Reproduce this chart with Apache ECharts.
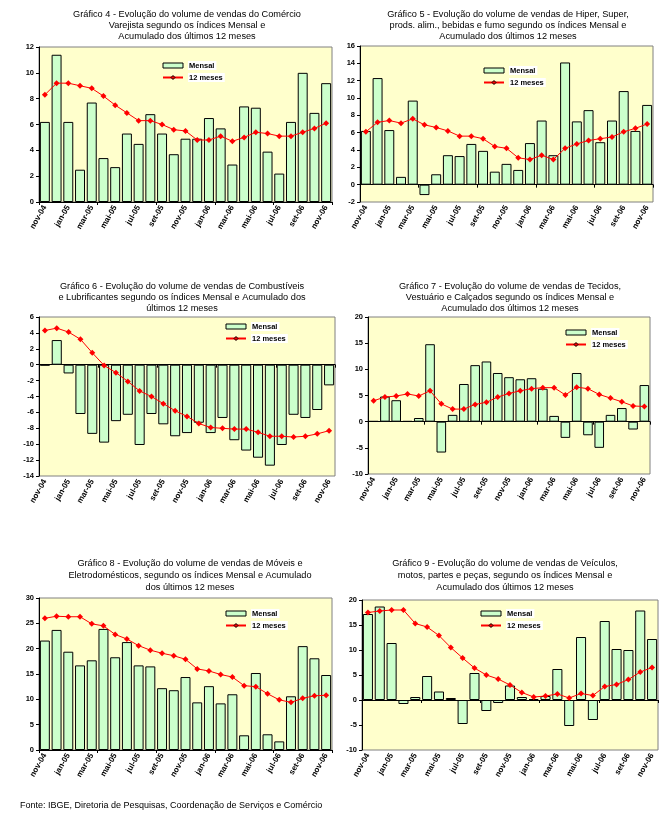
<!DOCTYPE html>
<html>
<head>
<meta charset="utf-8">
<script src="https://cdn.jsdelivr.net/npm/echarts@6/dist/echarts.min.js"></script>
<style>
html,body{margin:0;padding:0;background:#fff;}
#c{width:670px;height:813px;}
</style>
</head>
<body>
<div id="c"></div>
<script>
const categories = ['nov-04','dez-04','jan-05','fev-05','mar-05','abr-05','mai-05','jun-05','jul-05','ago-05','set-05','out-05','nov-05','dez-05','jan-06','fev-06','mar-06','abr-06','mai-06','jun-06','jul-06','ago-06','set-06','out-06','nov-06'];

const mensal4 = [6.2,11.4,6.2,2.5,7.7,3.4,2.7,5.3,4.5,6.8,5.3,3.7,4.9,4.9,6.5,5.7,2.9,7.4,7.3,3.9,2.2,6.2,10.0,6.9,9.2];
const meses4  = [8.3,9.2,9.2,9.0,8.8,8.2,7.5,6.9,6.3,6.3,6.0,5.6,5.5,4.8,4.8,5.1,4.7,5.0,5.4,5.3,5.1,5.1,5.4,5.7,6.1];

const mensal5 = [6.2,12.3,6.3,0.9,9.7,-1.2,1.2,3.4,3.3,4.7,3.9,1.5,2.4,1.7,4.8,7.4,3.4,14.1,7.3,8.6,4.9,7.4,10.8,6.2,9.2];
const meses5  = [6.1,7.2,7.4,7.1,7.6,6.9,6.6,6.2,5.6,5.6,5.3,4.4,4.2,3.1,2.9,3.4,2.9,4.2,4.7,5.1,5.3,5.5,6.1,6.5,7.0];

const mensal6 = [-0.1,3.1,-1.1,-6.2,-8.7,-9.8,-7.1,-6.3,-10.1,-6.2,-7.5,-9.0,-8.6,-7.3,-8.6,-6.7,-9.5,-10.8,-11.7,-12.7,-10.1,-6.3,-6.7,-5.7,-2.6];
const meses6  = [4.3,4.6,4.1,3.2,1.5,-0.1,-1.0,-2.1,-3.3,-4.0,-4.9,-5.8,-6.5,-7.4,-7.9,-8.0,-8.1,-8.1,-8.5,-9.0,-9.0,-9.1,-9.0,-8.7,-8.3];

const mensal7 = [0.1,4.8,4.1,0.1,0.7,14.8,-5.9,1.3,7.2,10.8,11.5,9.3,8.5,8.1,8.3,6.3,1.1,-3.1,9.3,-2.6,-5.0,1.3,2.6,-1.5,7.0];
const meses7  = [4.0,4.7,4.9,5.3,4.9,5.9,3.4,2.4,2.4,3.3,3.7,4.7,5.4,5.9,6.3,6.5,6.5,5.1,6.6,6.3,5.2,4.5,3.8,3.0,2.9];

const mensal8 = [21.6,23.7,19.4,16.7,17.7,23.9,18.3,21.3,16.7,16.5,12.2,11.8,14.4,9.4,12.6,9.2,11.0,2.9,15.2,3.1,1.7,10.6,20.5,18.1,14.8];
const meses8  = [26.0,26.4,26.3,26.3,24.9,24.5,22.8,21.9,20.6,19.7,19.1,18.6,17.9,16.0,15.6,14.9,14.4,12.7,12.5,11.1,9.9,9.4,10.2,10.7,10.8];

const mensal9 = [17.2,18.7,11.4,-0.8,0.6,4.8,1.7,0.4,-4.8,5.4,-2.2,-0.6,2.9,0.6,0.2,0.8,6.2,-5.2,12.6,-4.0,15.8,10.2,10.0,17.9,12.2];
const meses9  = [17.5,17.8,18.0,18.0,15.3,14.6,12.9,10.5,8.4,6.4,5.0,4.2,3.0,1.5,0.6,0.8,1.2,0.4,1.3,0.9,2.7,3.1,4.1,5.6,6.5];

const titles = [
  'Gráfico 4 - Evolução do volume de vendas do Comércio\nVarejista segundo os índices Mensal e\nAcumulado dos últimos 12 meses',
  'Gráfico 5 - Evolução do volume de vendas de Hiper, Super,\nprods. alim., bebidas e fumo segundo os índices Mensal e\nAcumulado dos últimos 12 meses',
  'Gráfico 6 - Evolução do volume de vendas de Combustíveis\ne Lubrificantes segundo os índices Mensal e Acumulado dos\núltimos 12 meses',
  'Gráfico 7 - Evolução do volume de vendas de Tecidos,\nVestuário e Calçados segundo os índices Mensal e\nAcumulado dos últimos 12 meses',
  'Gráfico 8 - Evolução do volume de vendas de Móveis e\nEletrodomésticos, segundo os índices Mensal e Acumulado\ndos últimos 12 meses',
  'Gráfico 9 - Evolução do volume de vendas de Veículos,\nmotos, partes e peças, segundo os índices Mensal e\nAcumulado dos últimos 12 meses'
];
const footer = 'Fonte: IBGE, Diretoria de Pesquisas, Coordenação de Serviços e Comércio';
const mensalName = 'Mensal';
const mesesName = '12 meses';

const mensalData = [mensal4, mensal5, mensal6, mensal7, mensal8, mensal9];
const mesesData = [meses4, meses5, meses6, meses7, meses8, meses9];
const yRanges = [[0,12,2],[-2,16,2],[-14,6,2],[-10,20,5],[0,30,5],[-10,20,5]];

// layout (pixels)
const layout = [
  {grid:[39,47,293,155],  title:[187,9,11],  legend:[162,61]},
  {grid:[360,46,293,156], title:[508,9,11],  legend:[483,66]},
  {grid:[39,317,296,159], title:[182,281,11],legend:[225,322]},
  {grid:[368,317,282,157],title:[510,281,11],legend:[565,328]},
  {grid:[39,598,293,152], title:[190,557,12],legend:[225,609]},
  {grid:[362,600,296,150],title:[505,557,12],legend:[480,609]}
];

const FONT = 'Liberation Sans, Arial, sans-serif';
const option = {
  animation: false,
  backgroundColor: '#ffffff',
  title: [], legend: [], grid: [], xAxis: [], yAxis: [], series: []
};

layout.forEach((L, i) => {
  const [gl, gt, gw, gh] = L.grid;
  option.grid.push({left: gl, top: gt, width: gw, height: gh, show: true,
    backgroundColor: '#FFFFCC', borderColor: '#808080', borderWidth: 1, containLabel: false});
  option.title.push({text: titles[i], left: L.title[0], top: L.title[1], textAlign: 'center', padding: 0,
    textStyle: {fontFamily: FONT, fontSize: 9.2, fontWeight: 'normal', color: '#000', lineHeight: L.title[2]}});
  option.legend.push({
    orient: 'vertical', left: L.legend[0], top: L.legend[1], padding: 0, itemGap: 3,
    itemWidth: 20, itemHeight: 5, selectedMode: false,
    data: [{name: mensalName, icon: 'rect'}, {name: mesesName}],
    textStyle: {fontFamily: FONT, fontSize: 7.5, fontWeight: 'bold', color: '#000',
      backgroundColor: '#ffffff', padding: [1, 2, 0, 1]},
    itemStyle: {borderColor: '#000', borderWidth: 1}
  });
  // label axis at bottom
  option.xAxis.push({
    gridIndex: i, type: 'category', data: categories, position: 'bottom',
    axisLine: {show: false, onZero: false}, axisTick: {show: false},
    axisLabel: {interval: 1, rotate: 60, fontFamily: FONT, fontSize: 8, fontWeight: 'bold', color: '#000', margin: 4}
  });
  // zero axis line with ticks
  option.xAxis.push({
    gridIndex: i, type: 'category', data: categories, position: 'bottom',
    axisLine: {show: true, onZero: true, lineStyle: {color: '#000', width: 1}},
    axisTick: {show: true, length: 3, lineStyle: {color: '#000'}},
    axisLabel: {show: false}, splitLine: {show: false}
  });
  const [mn, mx, iv] = yRanges[i];
  option.yAxis.push({
    gridIndex: i, type: 'value', min: mn, max: mx, interval: iv,
    axisLine: {show: true, lineStyle: {color: '#000', width: 1}},
    axisTick: {show: true, length: 3, lineStyle: {color: '#000'}},
    splitLine: {show: false},
    axisLabel: {fontFamily: FONT, fontSize: 7.5, fontWeight: 'bold', color: '#000', margin: 5}
  });
  option.series.push({
    name: mensalName, type: 'bar', xAxisIndex: 2 * i, yAxisIndex: i,
    data: mensalData[i], barCategoryGap: '15%',
    itemStyle: {color: '#CCFFCC', borderColor: '#000', borderWidth: 1}, z: 2
  });
  option.series.push({
    name: mesesName, type: 'line', xAxisIndex: 2 * i, yAxisIndex: i,
    data: mesesData[i], symbol: 'diamond', symbolSize: 6,
    lineStyle: {color: '#FF0000', width: 1}, itemStyle: {color: '#FF0000'}, z: 5
  });
});

option.title.push({text: footer, left: 20, top: 801, padding: 0,
  textStyle: {fontFamily: FONT, fontSize: 9, fontWeight: 'normal', color: '#000'}});

const chart = echarts.init(document.getElementById('c'), null, {renderer: 'canvas'});
chart.setOption(option);
</script>
</body>
</html>
